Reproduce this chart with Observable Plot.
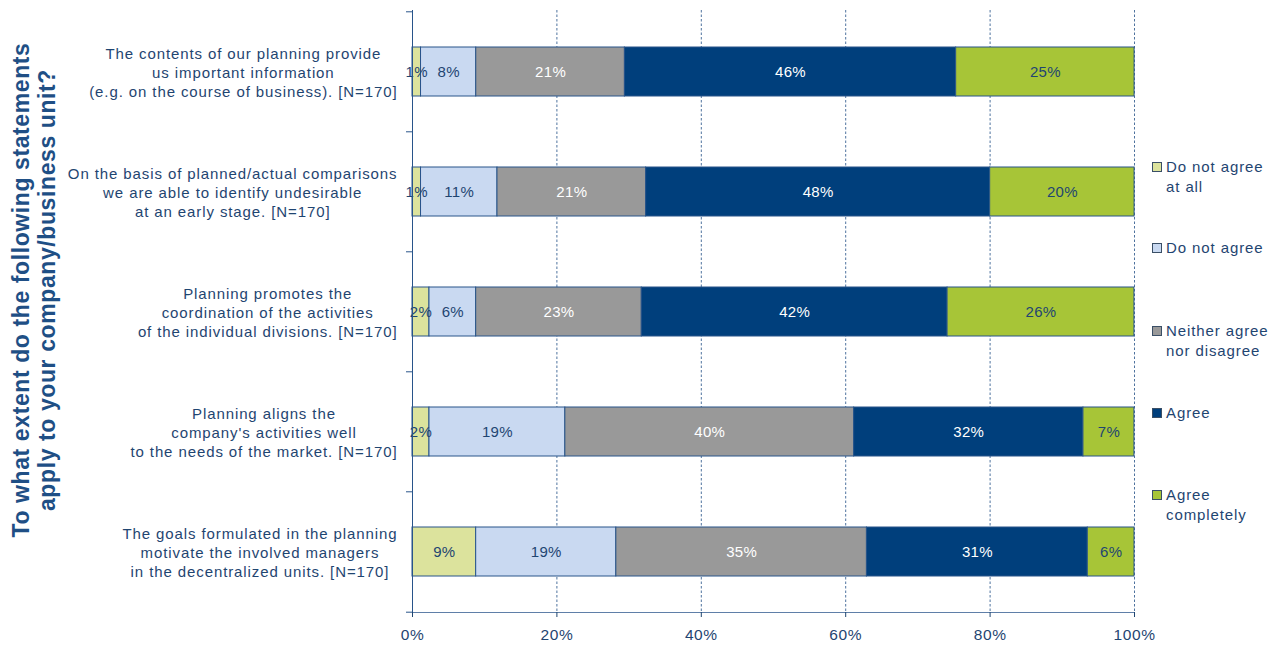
<!DOCTYPE html>
<html><head><meta charset="utf-8">
<script src="https://cdn.jsdelivr.net/npm/d3@7"></script>
<script src="https://cdn.jsdelivr.net/npm/@observablehq/plot@0.6"></script>
<style>
body{margin:0;background:#fff;font-family:"Liberation Sans",Arial,sans-serif;}
#wrap{position:relative;width:1279px;height:646px;overflow:hidden;}
#chart{position:absolute;left:0;top:0;}
#ytitle{position:absolute;left:-246px;top:264px;width:560px;height:52px;line-height:26px;text-align:center;
  font-weight:bold;font-size:23px;letter-spacing:0.6px;color:#1f4f85;transform:rotate(-90deg);transform-origin:center;white-space:nowrap;}
#legend{position:absolute;left:1152px;top:0;font-size:15px;letter-spacing:0.9px;color:#1f4571;line-height:19.5px;}
.item{position:absolute;left:0;display:flex;align-items:flex-start;white-space:nowrap;}
.sw{width:8px;height:8px;border:1px solid #3a4f66;margin-top:5px;margin-right:4px;flex:none;}
#chart g[aria-label="y-axis tick label"]{font-size:15px;letter-spacing:0.9px;}
#chart g[aria-label="x-axis tick label"]{font-size:15.5px;letter-spacing:0.6px;}
#chart g[aria-label="text"]{font-size:15px;letter-spacing:0.3px;}
</style></head><body><div id="wrap"><div id="chart"></div><div id="ytitle"></div><div id="legend"></div></div>
<script>
const statements = [
  "The contents of our planning provide\nus important information\n(e.g. on the course of business). [N=170]",
  "On the basis of planned/actual comparisons\nwe are able to identify undesirable\nat an early stage. [N=170]",
  "Planning promotes the\ncoordination of the activities\nof the individual divisions. [N=170]",
  "Planning aligns the\ncompany's activities well\nto the needs of the market. [N=170]",
  "The goals formulated in the planning\nmotivate the involved managers\nin the decentralized units. [N=170]"
];
const responses = ["Do not agree at all","Do not agree","Neither agree nor disagree","Agree","Agree completely"];
const legendLabels = ["Do not agree<br>at all","Do not agree","Neither agree<br>nor disagree","Agree","Agree<br>completely"];
const doNotAgreeAtAll = [1.18, 1.18, 2.35, 2.35, 8.82];
const doNotAgree      = [7.65, 10.59, 6.47, 18.82, 19.41];
const neither         = [20.59, 20.59, 22.94, 40.0, 34.71];
const agree           = [45.88, 47.65, 42.35, 31.76, 30.59];
const agreeCompletely = [24.71, 20.0, 25.88, 7.06, 6.47];
const xTicks = [0, 20, 40, 60, 80, 100];
const titleLines = ["To what extent do the following statements", "apply to your company/business unit?"];

const colors = ["#dce39d", "#c9d9f1", "#999999", "#003f7c", "#a7c537"];
const darkText = ["Do not agree at all", "Do not agree", "Agree completely"];
const series = [doNotAgreeAtAll, doNotAgree, neither, agree, agreeCompletely];
const data = [];
statements.forEach((s, i) => responses.forEach((r, j) => data.push({statement: s, response: r, value: series[j][i]})));

const plotTop = 10, plotBottom = 612;
const step = (plotBottom - plotTop) / statements.length;
const ink = "#1f4571";
const lbl = d => Math.round(d.value) + "%";

const chart = Plot.plot({
  width: 1279, height: 646,
  marginLeft: 412, marginRight: 145, marginTop: plotTop, marginBottom: 646 - plotBottom,
  style: {fontFamily: "Liberation Sans, Arial, sans-serif", fontSize: "14px", color: ink, background: "transparent"},
  x: {domain: [0, 100]},
  y: {domain: statements, paddingInner: 0.593, paddingOuter: 0.2965},
  color: {domain: responses, range: colors},
  marks: [
    Plot.gridX(xTicks.slice(1), {stroke: "#3b6394", strokeOpacity: 0.9, strokeDasharray: "2.5,2"}),
    Plot.barX(data, Plot.stackX({x: "value", y: "statement", fill: "response", stroke: "#28548a", strokeWidth: 1})),
    Plot.text(data, Plot.filter(d => darkText.includes(d.response),
      Plot.stackX({x: "value", y: "statement", text: lbl, fill: ink}))),
    Plot.text(data, Plot.filter(d => !darkText.includes(d.response),
      Plot.stackX({x: "value", y: "statement", text: lbl, fill: "#ffffff"}))),
    Plot.frame({anchor: "left", stroke: "#28548a"}),
    Plot.frame({anchor: "bottom", stroke: "#5f7fa8"}),
    Plot.axisX({ticks: xTicks, tickFormat: d => d + "%", tickSize: 5, tickPadding: 11, color: ink, label: null}),
    Plot.axisY({tickSize: 0, tickPadding: 15, lineHeight: 1.27, color: ink, label: null}),
    Plot.axisY({tickSize: 6, tickFormat: () => "", dy: -step / 2, color: "#28548a", label: null}),
    Plot.axisY([statements[statements.length - 1]], {tickSize: 6, tickFormat: () => "", dy: step / 2, color: "#28548a", label: null})
  ]
});
document.getElementById("chart").appendChild(chart);

// centre the lines of each category label within its right-aligned block
chart.querySelectorAll("text").forEach(t => {
  const spans = t.querySelectorAll("tspan");
  if (spans.length < 2) return;
  const w = Math.max(...Array.from(spans, s => s.getComputedTextLength()));
  t.setAttribute("text-anchor", "middle");
  spans.forEach(s => s.setAttribute("x", -w / 2));
});

document.getElementById("ytitle").innerHTML = titleLines.join("<br>");
const legendTops = [157, 238, 321, 403, 485];
const lg = document.getElementById("legend");
responses.forEach((r, i) => {
  const it = document.createElement("div");
  it.className = "item";
  it.style.top = legendTops[i] + "px";
  it.innerHTML = `<div class="sw" style="background:${colors[i]}"></div><div>${legendLabels[i]}</div>`;
  lg.appendChild(it);
});
</script></body></html>
